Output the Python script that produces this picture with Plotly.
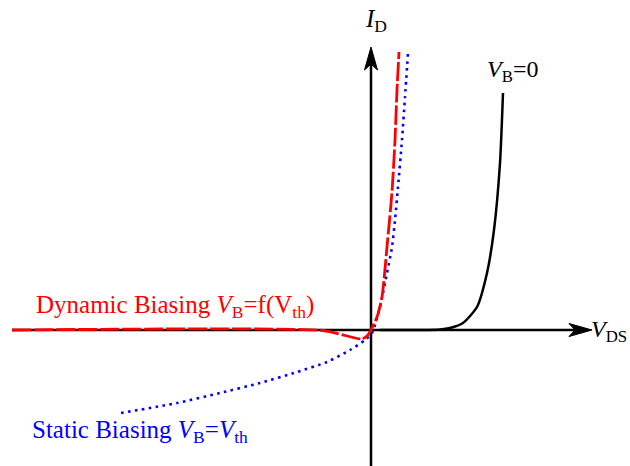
import plotly.graph_objects as go

# Drain current I_D against drain-source voltage V_DS (arbitrary units)
vds_vb0 = [0.09, 0.49, 0.69, 0.79, 0.92, 1.06, 1.16, 1.23, 1.29, 1.32]
id_vb0 = [0.0, 0.0, 0.005, 0.02, 0.07, 0.23, 0.57, 1.00, 1.67, 2.37]

vds_dynamic = [-3.59, -0.48, -0.26, -0.09, -0.03, 0.06, 0.11, 0.16, 0.21, 0.24, 0.26, 0.28]
id_dynamic = [0.0, -0.005, -0.055, -0.09, -0.05, 0.13, 0.33, 0.83, 1.38, 1.90, 2.40, 2.78]

vds_static = [-2.50, -1.94, -1.51, -1.11, -0.74, -0.44, -0.21, -0.06, 0.01, 0.09,
              0.16, 0.21, 0.24, 0.27, 0.31, 0.34, 0.37]
id_static = [-0.83, -0.73, -0.63, -0.53, -0.42, -0.32, -0.20, -0.10, -0.03, 0.23,
             0.57, 0.83, 1.10, 1.43, 1.90, 2.33, 2.77]

# Extent of the drawn axes (data units)
x_axis_start, x_axis_tip = -3.59, 2.21
y_axis_start, y_axis_tip = -1.45, 2.83

SERIF = "Liberation Serif"

fig = go.Figure()

fig.add_trace(go.Scatter(x=vds_vb0, y=id_vb0, mode="lines",
                         line=dict(color="black", width=2.5, shape="spline", smoothing=0.6)))
fig.add_trace(go.Scatter(x=vds_static, y=id_static, mode="lines",
                         line=dict(color="#0000ff", width=2.6, dash="2.6px,4.4px",
                                   shape="spline", smoothing=0.6)))
fig.add_trace(go.Scatter(x=vds_dynamic, y=id_dynamic, mode="lines",
                         line=dict(color="#ff0000", width=2.8, dash="19px,3px",
                                   shape="spline", smoothing=0.6)))

shapes = [
    # axis lines
    dict(type="line", xref="x", yref="y", x0=x_axis_start, x1=x_axis_tip - 0.12, y0=0, y1=0,
         line=dict(color="black", width=2.5), layer="below"),
    dict(type="line", xref="x", yref="y", x0=0, x1=0, y0=y_axis_start, y1=y_axis_tip - 0.12,
         line=dict(color="black", width=2.5), layer="below"),
    # barbed arrowheads, sized in pixels
    dict(type="path", xref="x", yref="y", xsizemode="pixel", ysizemode="pixel",
         xanchor=x_axis_tip, yanchor=0,
         path="M0,0 L-23,6.5 L-17,0 L-23,-6.5 Z",
         fillcolor="black", line=dict(color="black", width=1)),
    dict(type="path", xref="x", yref="y", xsizemode="pixel", ysizemode="pixel",
         xanchor=0, yanchor=y_axis_tip,
         path="M0,0 L-6.5,-23 L0,-17 L6.5,-23 Z",
         fillcolor="black", line=dict(color="black", width=1)),
]

annotations = [
    dict(x=-0.08, y=3.10, text="<i>I</i><sub>D</sub>", font=dict(size=25)),
    dict(x=1.14, y=2.59, text="<i>V</i><sub>B</sub>=0", font=dict(size=24)),
    dict(x=2.18, y=-0.01, text="<i>V</i><sub>DS</sub>", font=dict(size=24)),
    dict(x=-3.37, y=0.24, text="Dynamic Biasing <i>V</i><sub>B</sub>=f(V<sub>th</sub>)",
         font=dict(size=25, color="#ff0000")),
    dict(x=-3.41, y=-1.01, text="Static Biasing <i>V</i><sub>B</sub>=<i>V</i><sub>th</sub>",
         font=dict(size=25, color="#0000ff")),
]
for a in annotations:
    a.update(xref="x", yref="y", xanchor="left", yanchor="middle", showarrow=False)
    a["font"].setdefault("color", "black")
    a["font"]["family"] = SERIF

fig.update_layout(
    width=630, height=466,
    margin=dict(l=0, r=0, t=0, b=0),
    paper_bgcolor="white", plot_bgcolor="white",
    showlegend=False,
    xaxis=dict(range=[-3.71, 2.59], visible=False, fixedrange=True),
    yaxis=dict(range=[-1.36, 3.30], visible=False, fixedrange=True),
    shapes=shapes,
    annotations=annotations,
)

fig.write_html("out.html")
